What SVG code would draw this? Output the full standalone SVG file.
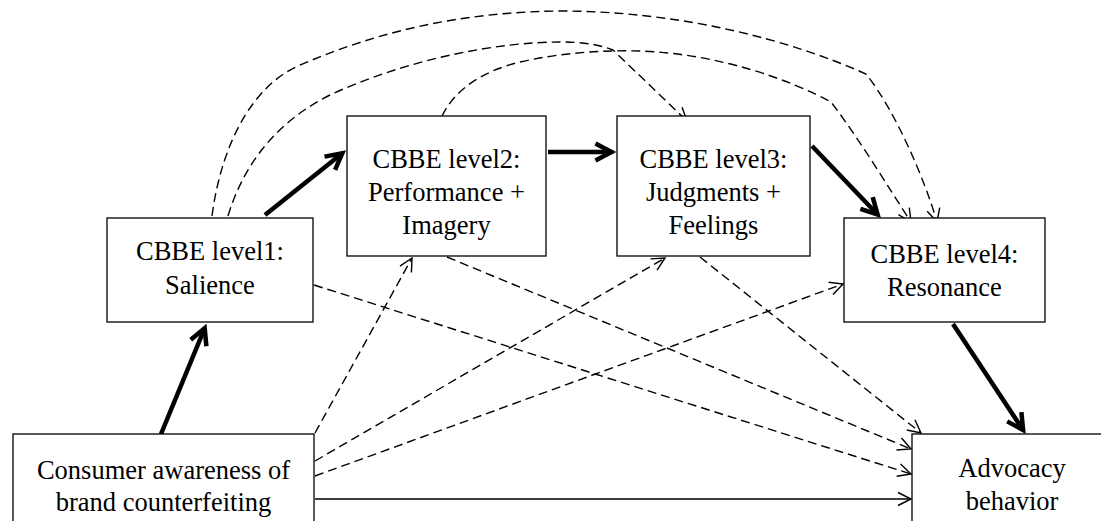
<svg xmlns="http://www.w3.org/2000/svg" width="1101" height="521" viewBox="0 0 1101 521">
  <defs>
    <style>
      .box { fill: #ffffff; stroke: #000000; stroke-width: 1.3; }
      .lbl { font-family: 'Liberation Serif', 'Times New Roman', serif; font-size: 26.5px; fill: #000000; text-anchor: middle; }
      .thick { fill: none; stroke: #000000; stroke-width: 4.5; }
      .dash { fill: none; stroke: #000000; stroke-width: 1.4; stroke-dasharray: 9 5; }
      .thin { fill: none; stroke: #000000; stroke-width: 1.5; }
      .hthin { fill: none; stroke: #000000; stroke-width: 1.4; }
      .hthick { fill: none; stroke: #000000; stroke-width: 4.5; stroke-linejoin: miter; }
    </style>
  </defs>

  <g id="connectors">
    <!-- curved dashed -->
    <path class="dash" d="M212,216 C222,140 255,85 298,66 C380,30 465,12 560,11 C680,11 790,40 866,74 C895,110 925,180 937,222"/>
    <path class="hthin" d="M927.2,211.3 L937,222 L939.7,207.7"/>
    <path class="dash" d="M228,216 C245,160 280,120 330,95 C410,58 500,42 560,42 C585,42 600,45 613,50 L687,121"/>
    <path class="hthin" d="M673.1,116.7 L687,121 L682.1,107.3"/>
    <path class="dash" d="M442,116 C455,90 480,72 520,62 C560,53 600,50 640,51 C720,54 790,80 831,102 C860,140 890,190 911,222"/>
    <path class="hthin" d="M898.4,214.7 L911,222 L909.3,207.6"/>
    <!-- straight dashed -->
    <path class="dash" d="M314,285 L911,474"/>
    <path class="hthin" d="M896.7,476.3 L911,474 L900.6,463.9"/>
    <path class="dash" d="M447,257 L911,449"/>
    <path class="hthin" d="M896.5,450 L911,449 L901.5,438"/>
    <path class="dash" d="M700,257 L921,433"/>
    <path class="hthin" d="M906.8,430 L921,433 L914.9,419.8"/>
    <path class="dash" d="M315,433 L412,258"/>
    <path class="hthin" d="M411.4,272.5 L412,258 L400,266.2"/>
    <path class="dash" d="M315,461 L665,258"/>
    <path class="hthin" d="M657,270.1 L665,258 L650.5,258.9"/>
    <path class="dash" d="M315,476 L843,284"/>
    <path class="hthin" d="M833,294.6 L843,284 L828.6,282.3"/>
    <!-- thick solid -->
    <path class="thick" d="M161,434 L204.7,328.2"/>
    <path class="hthick" d="M206.4,346.2 L204.7,328.2 L190.7,339.7"/>
    <path class="thick" d="M265,215 L342.3,153.2"/>
    <path class="hthick" d="M335.1,169.8 L342.3,153.2 L324.5,156.6"/>
    <path class="thick" d="M548,152 L611.5,152"/>
    <path class="hthick" d="M595.5,160.5 L611.5,152 L595.5,143.5"/>
    <path class="thick" d="M812,146 L877.6,214.5"/>
    <path class="hthick" d="M860.4,208.8 L877.6,214.5 L872.7,197.1"/>
    <path class="thick" d="M953,324 L1023.1,430.1"/>
    <path class="hthick" d="M1007.2,421.4 L1023.1,430.1 L1021.4,412.1"/>
    <!-- thin solid -->
    <path class="thin" d="M315,499 L911,499"/>
    <path class="hthin" d="M898,492.5 L911,499 L898,505.5"/>
  </g>

  <g id="n1">
    <rect class="box" x="107" y="218" width="206" height="104"/>
    <text class="lbl" x="210" y="260">CBBE level1:</text>
    <text class="lbl" x="210" y="294">Salience</text>
  </g>
  <g id="n2">
    <rect class="box" x="347" y="116" width="199" height="140"/>
    <text class="lbl" x="446.5" y="168">CBBE level2:</text>
    <text class="lbl" x="446.5" y="201">Performance +</text>
    <text class="lbl" x="446.5" y="234">Imagery</text>
  </g>
  <g id="n3">
    <rect class="box" x="617" y="116" width="193" height="140"/>
    <text class="lbl" x="713.5" y="168">CBBE level3:</text>
    <text class="lbl" x="713.5" y="201">Judgments +</text>
    <text class="lbl" x="713.5" y="234">Feelings</text>
  </g>
  <g id="n4">
    <rect class="box" x="844" y="218" width="201" height="104"/>
    <text class="lbl" x="944.5" y="263">CBBE level4:</text>
    <text class="lbl" x="944.5" y="296">Resonance</text>
  </g>
  <g id="n5">
    <rect class="box" x="13" y="434" width="301" height="104"/>
    <text class="lbl" x="163.5" y="479">Consumer awareness of</text>
    <text class="lbl" x="163.5" y="511">brand counterfeiting</text>
  </g>
  <g id="n6">
    <rect class="box" x="912" y="434" width="200" height="104"/>
    <text class="lbl" x="1012" y="477">Advocacy</text>
    <text class="lbl" x="1012" y="510">behavior</text>
  </g>
</svg>
